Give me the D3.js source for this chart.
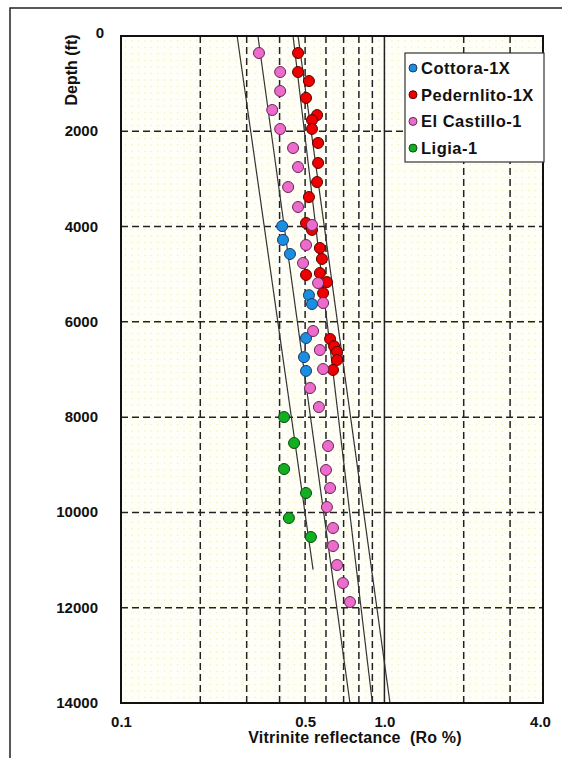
<!DOCTYPE html>
<html>
<head>
<meta charset="utf-8">
<script src="https://cdn.jsdelivr.net/npm/d3@7"></script>
<style>
  body { margin: 0; background: #fff; }
  svg { display: block; }
  text { font-family: "Liberation Sans", Arial, sans-serif; font-weight: bold; fill: #111; white-space: pre; }
</style>
</head>
<body>
<script>
const width = 562;
const height = 758;

// series values: Ro % and depth (ft)
const cottoraRo    = [0.409, 0.412, 0.438, 0.517, 0.531, 0.504, 0.495, 0.504];
const cottoraDepth = [3990, 4280, 4575, 5440, 5625, 6340, 6740, 7030];

const pederRo    = [0.470, 0.470, 0.517, 0.504, 0.555, 0.531, 0.531, 0.560, 0.560, 0.555, 0.517, 0.504,
                    0.531, 0.569, 0.579, 0.504, 0.569, 0.605, 0.585, 0.622, 0.644, 0.661, 0.661, 0.638];
const pederDepth = [357, 756, 945, 1300, 1660, 1765, 1950, 2245, 2665, 3065, 3380, 3925,
                    4070, 4450, 4680, 5015, 4975, 5165, 5395, 6360, 6510, 6630, 6800, 7010];

const castilloRo    = [0.334, 0.402, 0.402, 0.375, 0.402, 0.450, 0.470, 0.431, 0.470, 0.531, 0.504, 0.491,
                       0.560, 0.585, 0.536, 0.569, 0.585, 0.522, 0.564, 0.611, 0.600, 0.622, 0.605, 0.638,
                       0.638, 0.661, 0.696, 0.740];
const castilloDepth = [357, 756, 1155, 1553, 1952, 2351, 2750, 3170, 3589, 3967, 4387, 4765,
                       5185, 5604, 6192, 6591, 6990, 7389, 7788, 8606, 9110, 9488, 9887, 10327,
                       10705, 11104, 11482, 11881];

const ligiaRo    = [0.416, 0.454, 0.416, 0.504, 0.434, 0.526];
const ligiaDepth = [7998, 8543, 9089, 9593, 10117, 10516];

// trend lines: Ro at top, Ro at end, end depth
const trendRoTop    = [0.276, 0.331, 0.450, 0.470];
const trendRoEnd    = [0.536, 0.740, 0.900, 1.050];
const trendDepthEnd = [11200, 14000, 14000, 14000];

const seriesNames  = ["Cottora-1X", "Pedernlito-1X", "El Castillo-1", "Ligia-1"];
const seriesFill   = ["#1a8ee0", "#ee0000", "#ec6ccc", "#10b020"];
const seriesStroke = ["#1d3a66", "#5a0000", "#6a2458", "#0c4a10"];

const xGrid = [0.2, 0.3, 0.4, 0.5, 0.6, 0.7, 0.8, 0.9, 2.0, 3.0];
const xTickLabels = [0.1, 0.5, 1.0, 4.0];
const yTicks = [0, 2000, 4000, 6000, 8000, 10000, 12000, 14000];
const yGrid = [2000, 4000, 6000, 8000, 10000, 12000];

const plot = {left: 121, top: 36, right: 543, bottom: 703};

const x = d3.scaleLog().domain([0.1, 4]).range([plot.left, plot.right]);
const y = d3.scaleLinear().domain([0, 14000]).range([plot.top, plot.bottom]);

const svg = d3.select("body").append("svg")
    .attr("width", width)
    .attr("height", height);

// dotted yellow background
const defs = svg.append("defs");
const pat = defs.append("pattern")
    .attr("id", "dots")
    .attr("patternUnits", "userSpaceOnUse")
    .attr("width", 13).attr("height", 13);
pat.append("rect").attr("width", 13).attr("height", 13).attr("fill", "#fffff8");
[[2, 2], [8.5, 2], [2, 8.5], [8.5, 8.5]].forEach(function(p) {
    pat.append("circle").attr("cx", p[0]).attr("cy", p[1]).attr("r", 0.8).attr("fill", "#f1f3b4");
});

// outer frame
svg.append("path")
    .attr("d", "M10,758 L10,8 L562,8")
    .attr("fill", "none")
    .attr("stroke", "#222")
    .attr("stroke-width", 1.5);

svg.append("rect")
    .attr("x", plot.left).attr("y", plot.top)
    .attr("width", plot.right - plot.left)
    .attr("height", plot.bottom - plot.top)
    .attr("fill", "url(#dots)");

// grid
svg.append("g").selectAll("line")
    .data(xGrid)
    .enter().append("line")
    .attr("x1", d => x(d)).attr("x2", d => x(d))
    .attr("y1", plot.top).attr("y2", plot.bottom)
    .attr("stroke", "#222")
    .attr("stroke-width", 1.5)
    .attr("stroke-dasharray", "7,4");

svg.append("g").selectAll("line")
    .data(yGrid)
    .enter().append("line")
    .attr("x1", plot.left).attr("x2", plot.right)
    .attr("y1", d => y(d)).attr("y2", d => y(d))
    .attr("stroke", "#222")
    .attr("stroke-width", 1.5)
    .attr("stroke-dasharray", "7,4");

svg.append("line")
    .attr("x1", x(1)).attr("x2", x(1))
    .attr("y1", plot.top).attr("y2", plot.bottom)
    .attr("stroke", "#222")
    .attr("stroke-width", 1.5);

// trend lines
svg.append("g").selectAll("line")
    .data(trendRoTop)
    .enter().append("line")
    .attr("x1", d => x(d))
    .attr("y1", y(0))
    .attr("x2", (d, i) => x(trendRoEnd[i]))
    .attr("y2", (d, i) => y(trendDepthEnd[i]))
    .attr("stroke", "#333")
    .attr("stroke-width", 1.2);

// points
function drawSeries(ro, depth, i) {
    svg.append("g").selectAll("circle")
        .data(ro)
        .enter().append("circle")
        .attr("cx", d => x(d))
        .attr("cy", (d, j) => y(depth[j]))
        .attr("r", 5.5)
        .attr("fill", seriesFill[i])
        .attr("stroke", seriesStroke[i])
        .attr("stroke-width", 1);
}
drawSeries(ligiaRo, ligiaDepth, 3);
drawSeries(cottoraRo, cottoraDepth, 0);
drawSeries(pederRo, pederDepth, 1);
drawSeries(castilloRo, castilloDepth, 2);

// plot border
svg.append("rect")
    .attr("x", plot.left).attr("y", plot.top)
    .attr("width", plot.right - plot.left)
    .attr("height", plot.bottom - plot.top)
    .attr("fill", "none")
    .attr("stroke", "#111")
    .attr("stroke-width", 2);

// axes
const yAxis = svg.append("g")
    .attr("transform", "translate(" + (plot.left - 23) + ",0)")
    .call(d3.axisLeft(y).tickValues(yTicks).tickSize(0).tickFormat(d3.format("d")));
yAxis.select(".domain").remove();
yAxis.selectAll("text")
    .attr("x", 0)
    .attr("dy", "0.3em")
    .style("font-size", "15px")
    .style("font-family", "Liberation Sans, Arial, sans-serif")
    .style("font-weight", "bold")
    .attr("fill", "#111");
yAxis.selectAll("text").filter(d => d === 0).attr("x", 6).attr("dy", "0.1em");

const xAxis = svg.append("g")
    .attr("transform", "translate(0," + (plot.bottom + 10) + ")")
    .call(d3.axisBottom(x).tickValues(xTickLabels).tickSize(0).tickFormat(d3.format(".1f")));
xAxis.select(".domain").remove();
xAxis.selectAll("text")
    .style("font-size", "15px")
    .style("font-family", "Liberation Sans, Arial, sans-serif")
    .style("font-weight", "bold")
    .attr("fill", "#111");
xAxis.selectAll("text").filter(d => d === 4).attr("dx", "-3");

svg.append("text")
    .attr("x", 355).attr("y", 743)
    .attr("text-anchor", "middle")
    .attr("xml:space", "preserve")
    .style("font-size", "16px")
    .style("letter-spacing", "0.2px")
    .text("Vitrinite reflectance  (Ro %)");

svg.append("text")
    .attr("transform", "translate(77,70) rotate(-90)")
    .attr("text-anchor", "middle")
    .style("font-size", "16px")
    .text("Depth (ft)");

// legend
const legend = svg.append("g");
legend.append("rect")
    .attr("x", 405).attr("y", 53)
    .attr("width", 139).attr("height", 109)
    .attr("fill", "#fff")
    .attr("stroke", "#333")
    .attr("stroke-width", 1.2);
const items = legend.selectAll("g.item")
    .data(seriesNames)
    .enter().append("g")
    .attr("transform", (d, i) => "translate(413," + (68 + i * 26.7) + ")");
items.append("circle")
    .attr("r", 4)
    .attr("fill", (d, i) => seriesFill[i])
    .attr("stroke", (d, i) => seriesStroke[i])
    .attr("stroke-width", 1);
items.append("text")
    .attr("x", 8)
    .attr("dy", "0.36em")
    .style("font-size", "16.5px")
    .style("letter-spacing", "0.5px")
    .text(d => d);
</script>
</body>
</html>
